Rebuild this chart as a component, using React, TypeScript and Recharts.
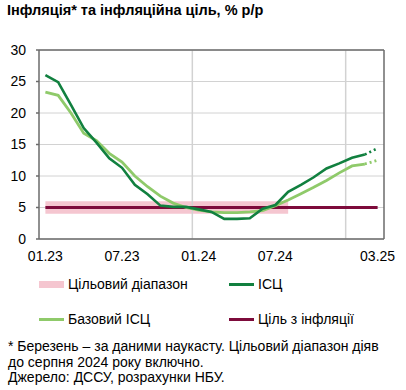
import { CartesianGrid, Line, LineChart, ReferenceArea, ReferenceLine, XAxis, YAxis } from 'recharts';

const months = [
  '01.23', '02.23', '03.23', '04.23', '05.23', '06.23', '07.23', '08.23', '09.23', '10.23', '11.23', '12.23',
  '01.24', '02.24', '03.24', '04.24', '05.24', '06.24', '07.24', '08.24', '09.24', '10.24', '11.24', '12.24',
  '01.25', '02.25', '03.25',
];
// ІСЦ, % р/р (березень 2025 - наукаст)
const cpi = [
  26.0, 24.9, 21.3, 17.6, 15.3, 12.8, 11.3, 8.6, 7.1, 5.3, 5.1, 5.1,
  4.7, 4.3, 3.2, 3.2, 3.3, 4.8, 5.4, 7.5, 8.6, 9.8, 11.2, 12.0,
  12.9, 13.4, 14.4,
];
// Базовий ІСЦ
const core = [
  23.3, 22.8, 20.0, 16.8, 15.6, 13.6, 12.2, 10.0, 8.3, 6.8, 5.7, 5.0,
  4.6, 4.3, 4.2, 4.2, 4.3, 4.5, 5.3, 6.2, 7.2, 8.2, 9.3, 10.5,
  11.6, 11.9, 12.5,
];
const target = 5;
const targetBand = [4, 6];
const bandLastMonth = '08.24';
const nowcastFrom = '02.25';
const tickMonths = ['01.23', '07.23', '01.24', '07.24', '03.25'];
const yTicks = [0, 5, 10, 15, 20, 25, 30];

const nowIdx = months.indexOf(nowcastFrom);
const data = months.map((m, i) => ({
  i,
  month: m,
  cpi: i <= nowIdx ? cpi[i] : null,
  cpiNow: i >= nowIdx ? cpi[i] : null,
  core: i <= nowIdx ? core[i] : null,
  coreNow: i >= nowIdx ? core[i] : null,
  target,
}));

const yearStarts = months
  .map((m, i) => (m.startsWith('01.') && i > 0 ? i - 0.5 : null))
  .filter((v): v is number => v !== null);

const DARK = '#11803f';
const LIGHT = '#8fca6a';
const MAROON = '#7d0b3b';
const PINK = '#f5c6d0';
const AXIS = '#6b6b6b';
const GRID = '#d2d2d2';
const FONT = '"Liberation Sans", Arial, sans-serif';

function LegendItem({ x, y, label, color, band }: { x: number; y: number; label: string; color: string; band?: boolean }) {
  return (
    <div style={{ position: 'absolute', left: x, top: y, display: 'flex', alignItems: 'center', height: 18 }}>
      <div style={{ width: 25, height: band ? 7 : 3, background: color, marginRight: 4 }} />
      <span style={{ fontSize: 14 }}>{label}</span>
    </div>
  );
}

export default function App() {
  const xMax = months.length - 0.5;
  return (
    <div style={{ position: 'absolute', left: 0, top: 0, width: 406, height: 390, background: '#fff', fontFamily: FONT, color: '#000' }}>
      <div style={{ position: 'absolute', left: 7, top: 2, fontSize: 14.5, fontWeight: 'bold' }}>
        Інфляція* та інфляційна ціль, % р/р
      </div>
      <div style={{ position: 'absolute', left: 0, top: 0 }}>
        <LineChart width={406} height={270} data={data} margin={{ top: 50, right: 22, left: 0, bottom: 6 }}>
          <ReferenceArea
            x1={0}
            x2={months.indexOf(bandLastMonth)}
            y1={targetBand[0]}
            y2={targetBand[1]}
            fill={PINK}
            fillOpacity={1}
            stroke="none"
          />
          <CartesianGrid vertical={false} stroke={GRID} />
          {yearStarts.map((x) => (
            <ReferenceLine key={x} x={x} stroke={GRID} strokeWidth={1.5} />
          ))}
          <ReferenceLine y={30} stroke={AXIS} strokeWidth={1.5} />
          <ReferenceLine x={xMax} stroke={AXIS} strokeWidth={1.5} />
          <XAxis
            dataKey="i"
            type="number"
            domain={[-0.5, xMax]}
            ticks={tickMonths.map((m) => months.indexOf(m))}
            tickFormatter={(v: number) => months[v]}
            tickLine={false}
            tickSize={0}
            tickMargin={12}
            height={25}
            stroke={AXIS}
            strokeWidth={1.5}
            tick={{ fill: '#000', fontSize: 14, fontFamily: FONT }}
          />
          <YAxis
            domain={[0, 30]}
            ticks={yTicks}
            width={39}
            tickSize={3}
            tickMargin={10}
            stroke={AXIS}
            strokeWidth={1.5}
            tick={{ fill: '#000', fontSize: 14, fontFamily: FONT }}
          />
          <Line dataKey="target" stroke={MAROON} strokeWidth={3} dot={false} isAnimationActive={false} />
          <Line dataKey="core" stroke={LIGHT} strokeWidth={2.8} dot={false} isAnimationActive={false} />
          <Line dataKey="coreNow" stroke={LIGHT} strokeWidth={2.8} strokeDasharray="2 3" dot={false} isAnimationActive={false} />
          <Line dataKey="cpi" stroke={DARK} strokeWidth={2.6} dot={false} isAnimationActive={false} />
          <Line dataKey="cpiNow" stroke={DARK} strokeWidth={2.6} strokeDasharray="2 3" dot={false} isAnimationActive={false} />
        </LineChart>
      </div>
      <LegendItem x={39} y={275} label="Цільовий діапазон" color={PINK} band />
      <LegendItem x={229} y={275} label="ІСЦ" color={DARK} />
      <LegendItem x={39} y={310} label="Базовий ІСЦ" color={LIGHT} />
      <LegendItem x={229} y={310} label="Ціль з інфляції" color={MAROON} />
      <div style={{ position: 'absolute', left: 8, top: 339, fontSize: 14, lineHeight: '15.5px', width: 398 }}>
        * Березень – за даними наукасту. Цільовий діапазон діяв
        <br />
        до серпня 2024 року включно.
        <br />
        Джерело: ДССУ, розрахунки НБУ.
      </div>
    </div>
  );
}
